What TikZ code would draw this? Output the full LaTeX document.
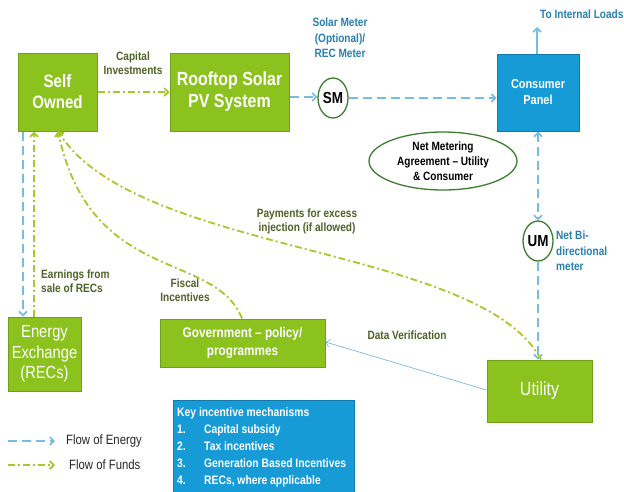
\documentclass[tikz,border=0pt]{standalone}
\usepackage{fontspec}
\setmainfont[FakeStretch=0.84]{Liberation Sans}
\usetikzlibrary{arrows.meta,shapes.geometric}
\definecolor{gfill}{RGB}{140,194,30}
\definecolor{gborder}{RGB}{110,160,30}
\definecolor{bfill}{RGB}{22,155,215}
\definecolor{bborder}{RGB}{20,120,170}
\definecolor{olive}{RGB}{79,98,40}
\definecolor{bluetext}{RGB}{40,128,175}
\definecolor{energy}{RGB}{120,188,225}
\definecolor{funds}{RGB}{165,200,45}
\definecolor{ellborder}{RGB}{60,125,50}
\tikzset{
  gbox/.style={draw=gborder, fill=gfill, line width=1pt, text=white, align=center, inner sep=0pt},
  bbox/.style={draw=bborder, fill=bfill, line width=1pt, text=white, align=center, inner sep=0pt},
  meter/.style={ellipse, draw=ellborder, line width=1.3pt, fill=white, minimum width=30pt, minimum height=40pt, inner sep=0pt, font=\fontsize{16}{16}\selectfont\bfseries},
  lbl/.style={text=olive, font=\fontsize{12}{14}\selectfont\bfseries, align=center, inner sep=0pt},
  blbl/.style={text=bluetext, font=\fontsize{12}{15.5}\selectfont\bfseries, align=center, inner sep=0pt},
  energyflow/.style={draw=energy, line width=1.6pt, dash pattern=on 9pt off 5pt, -{Straight Barb[length=4pt,width=8pt]}},
  fundsflow/.style={draw=funds, line width=1.8pt, dash pattern=on 7pt off 3pt on 2pt off 3pt, -{Straight Barb[length=4pt,width=8pt]}},
}
\begin{document}
\begin{tikzpicture}[x=1pt,y=-1pt]
\useasboundingbox (0,0) rectangle (624,491);
\fill[white] (0,0) rectangle (624,491);

% boxes
\node[gbox, minimum width=79pt, minimum height=78pt, font=\fontsize{18}{21}\selectfont\bfseries] (self) at (57.5,92) {Self\\Owned};
\node[gbox, minimum width=119pt, minimum height=78pt, font=\fontsize{19}{22}\selectfont\bfseries] (roof) at (229.5,92) {Rooftop Solar\\PV System};
\node[bbox, minimum width=82pt, minimum height=77pt, font=\fontsize{13}{16}\selectfont\bfseries] (panel) at (538,92.5) {Consumer\\Panel};
\node[gbox, minimum width=165pt, minimum height=48pt, font=\fontsize{14}{18}\selectfont\bfseries] (gov) at (242.5,343) {Government -- policy/\\programmes};
\node[gbox, minimum width=73pt, minimum height=74pt, font=\fontsize{17.5}{20.5}\selectfont] (exch) at (44.5,354) {Energy\\Exchange\\(RECs)};
\node[gbox, minimum width=105pt, minimum height=62pt, font=\fontsize{19}{20}\selectfont] (util) at (539.5,391) {Utility};

% meters
\node[meter] (sm) at (333,98) {SM};
\node[meter] (um) at (538,241) {UM};
\node[ellipse, draw=ellborder, line width=1.3pt, minimum width=148pt, minimum height=58pt, inner sep=0pt, align=center, font=\fontsize{12}{15}\selectfont\bfseries] (nm) at (443,161) {Net Metering\\Agreement -- Utility\\\& Consumer};

% labels
\node[lbl] (capl) at (133,63) {Capital\\Investments};
\node[blbl] (sml) at (340,38) {Solar Meter\\(Optional)/\\REC Meter};
\node[blbl, anchor=west] (loadl) at (540,14) {To Internal Loads};
\node[blbl, anchor=west, align=left] (uml) at (556,251) {Net Bi-\\directional\\meter};
\node[lbl] (payl) at (307,221) {Payments for excess\\injection (if allowed)};
\node[lbl, anchor=west, align=left] (earnl) at (41,281) {Earnings from\\sale of RECs};
\node[lbl] (fiscl) at (185,290) {Fiscal\\Incentives};
\node[lbl] (datal) at (407,335) {Data Verification};

% energy flows
\draw[energyflow] (roof.east |- 0,97) -- (sm.west |- 0,97);
\draw[energyflow] (sm.east |- 0,98) -- (panel.west |- 0,98);
\coordinate (loads) at (537,27);
\draw[draw=energy, line width=1.6pt, -{Straight Barb[length=4pt,width=8pt]}] (panel.north -| 537,0) -- (loads);
\draw[energyflow, {Straight Barb[length=4pt,width=8pt]}-{Straight Barb[length=4pt,width=8pt]}] (panel.south -| 538,0) -- (um.north);
\draw[energyflow] (um.south) -- (util.north -| 538,0);
\draw[energyflow] (self.south -| 23,0) -- (exch.north -| 23,0);
\draw[draw=energy, line width=0.7pt, -{Straight Barb[length=4pt,width=8pt]}] (util.west |- 0,390) -- (gov.east |- 0,342);

% fund flows
\draw[fundsflow] (self.east |- 0,92) -- (roof.west |- 0,92);
\draw[fundsflow] (exch.north -| 34,0) -- (self.south -| 34,0);
\coordinate (selfin) at (58,131);
\draw[fundsflow] (gov.north -| 242,0) .. controls (215,250) and (90,285) .. (selfin);
\draw[fundsflow] (util.north -| 541,0) .. controls (480,245) and (135,255) .. (selfin);

% key incentives box
\node[bbox, minimum width=181pt, minimum height=100pt, anchor=north west] (key) at (173,400) {};
\node[anchor=north west, text=white, align=left, inner sep=0pt, font=\fontsize{12.3}{17}\selectfont\bfseries] (keyt) at (177,407) {Key incentive mechanisms\\
\makebox[27pt][l]{1.}Capital subsidy\\
\makebox[27pt][l]{2.}Tax incentives\\
\makebox[27pt][l]{3.}Generation Based Incentives\\
\makebox[27pt][l]{4.}RECs, where applicable};

% legend
\coordinate (le1) at (8,441); \coordinate (le2) at (55,441);
\coordinate (lf1) at (8,465); \coordinate (lf2) at (55,465);
\draw[energyflow] (le1) -- (le2);
\draw[fundsflow] (lf1) -- (lf2);
\node[anchor=west, inner sep=0pt, text=black!85, font=\fontsize{13.5}{15}\selectfont] (lel) at (66,441) {Flow of Energy};
\node[anchor=west, inner sep=0pt, text=black!85, font=\fontsize{13.5}{15}\selectfont] (lfl) at (69,465) {Flow of Funds};
\end{tikzpicture}
\end{document}
